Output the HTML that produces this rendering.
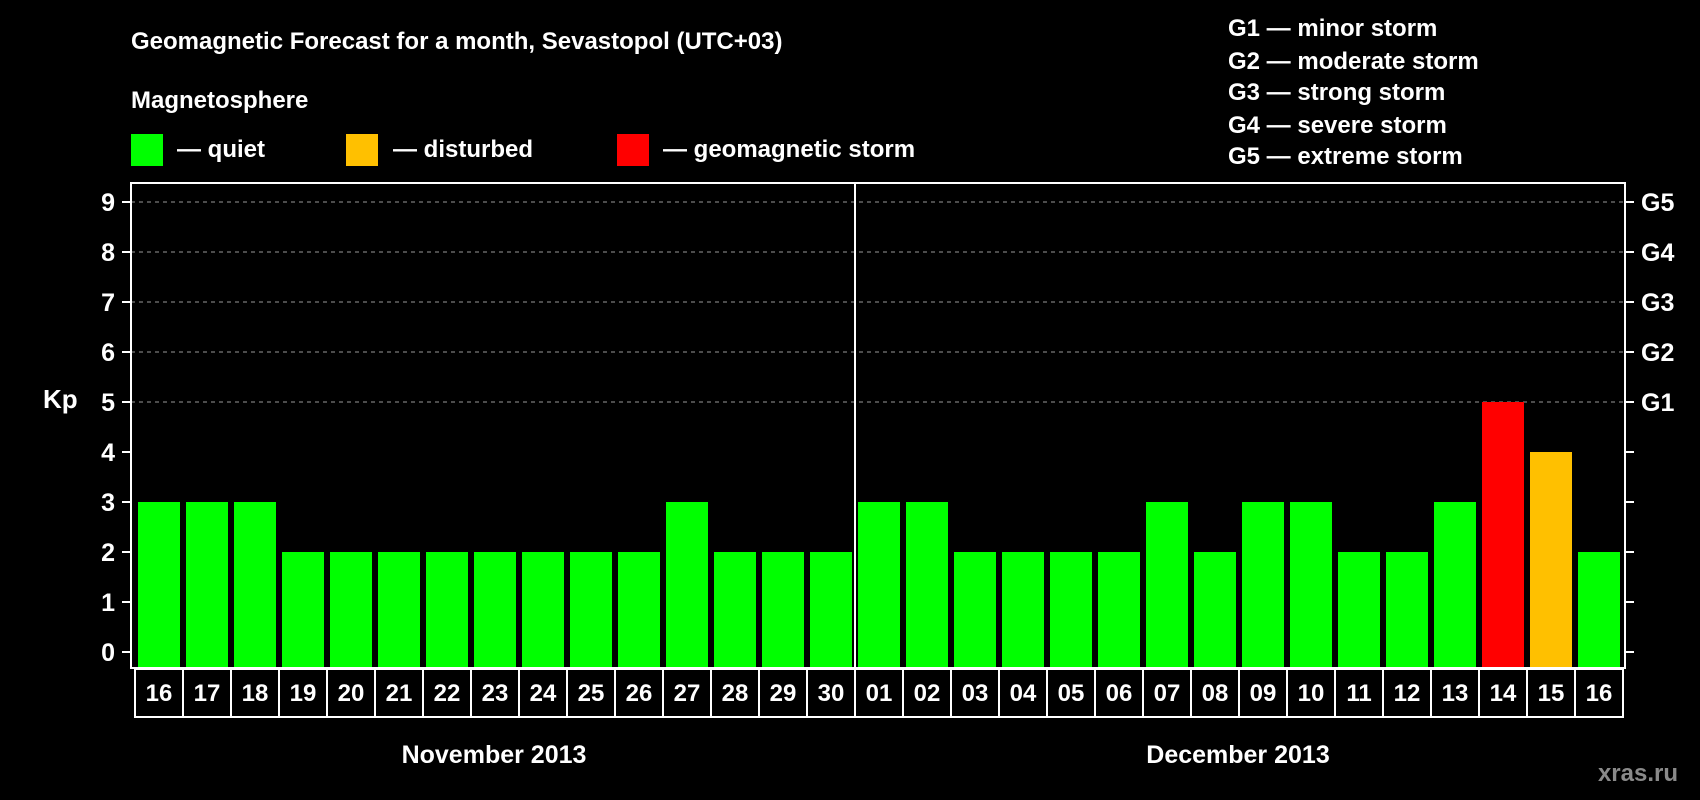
<!DOCTYPE html>
<html><head><meta charset="utf-8"><style>
html,body{margin:0;padding:0;background:#000;}
svg{display:block;font-family:"Liberation Sans",Arial,sans-serif;font-weight:bold;}
</style></head><body>
<svg id="chart" width="1700" height="800" viewBox="0 0 1700 800">
<rect width="1700" height="800" fill="#000"/>
<text x="131" y="49" fill="#fff" font-size="24">Geomagnetic Forecast for a month, Sevastopol (UTC+03)</text>
<text x="131" y="108" fill="#fff" font-size="24">Magnetosphere</text>
<g><rect x="131" y="134" width="32" height="32" fill="#00ff00"/><text x="177" y="157" fill="#fff" font-size="24">— quiet</text></g>
<g><rect x="346" y="134" width="32" height="32" fill="#ffc000"/><text x="393" y="157" fill="#fff" font-size="24">— disturbed</text></g>
<g><rect x="617" y="134" width="32" height="32" fill="#ff0000"/><text x="663" y="157" fill="#fff" font-size="24">— geomagnetic storm</text></g>
<g fill="#fff" font-size="24">
<text x="1228" y="36">G1 — minor storm</text>
<text x="1228" y="69">G2 — moderate storm</text>
<text x="1228" y="100">G3 — strong storm</text>
<text x="1228" y="133">G4 — severe storm</text>
<text x="1228" y="164">G5 — extreme storm</text>
</g>
<text x="43" y="408" fill="#fff" font-size="26">Kp</text>
<g id="grid"></g><g id="bars"></g><g id="axes"></g><g id="labels"></g>
<text x="494" y="763" fill="#fff" font-size="25" text-anchor="middle">November 2013</text>
<text x="1238" y="763" fill="#fff" font-size="25" text-anchor="middle">December 2013</text>
<text x="1678" y="781" fill="#8a8a8a" font-size="24" text-anchor="end">xras.ru</text>
</svg>
<script>
const days = ["16","17","18","19","20","21","22","23","24","25","26","27","28","29","30","01","02","03","04","05","06","07","08","09","10","11","12","13","14","15","16"];
const kpValues = [3,3,3,2,2,2,2,2,2,2,2,3,2,2,2,3,3,2,2,2,2,3,2,3,3,2,2,3,5,4,2];
const yTicks = [0,1,2,3,4,5,6,7,8,9];
const gLabels = ["","","","","","G1","G2","G3","G4","G5"];
const monthBreakIndex = 15;

const NS="http://www.w3.org/2000/svg";
const X0=135, CW=48, L=131, R=1625, T=183, B=668;
const y = v => 652 - v*50;
const x = i => X0 + i*CW;
function mk(tag, attrs, parent){const e=document.createElementNS(NS,tag);for(const k in attrs)e.setAttribute(k,attrs[k]);parent.appendChild(e);return e;}
const grid=document.getElementById('grid'), bars=document.getElementById('bars'), axes=document.getElementById('axes'), labels=document.getElementById('labels');
yTicks.forEach((v,i)=>{
  if(v>=5){const g=mk('line',{x1:L,x2:R,y1:y(v),y2:y(v),stroke:'#999','stroke-width':1,'stroke-dasharray':'4,4'},grid);
  
  }
  const t1=mk('line',{x1:L-9,x2:L,y1:y(v),y2:y(v),stroke:'#fff','stroke-width':2},axes);
  
  
  const t2=mk('line',{x1:R,x2:R+9,y1:y(v),y2:y(v),stroke:'#fff','stroke-width':2},axes);
  
  
  const tl=mk('text',{x:115,y:y(v)+9,fill:'#fff','font-size':25,'text-anchor':'end'},axes);
  tl.textContent=v;
  
  
  if(gLabels[i]){const gl=mk('text',{x:1641,y:y(v)+9,fill:'#fff','font-size':25},axes);
  gl.textContent=gLabels[i];
  
  }
});
kpValues.forEach((v,i)=>{
  const col = v>=5?'#ff0000':(v>=4?'#ffc000':'#00ff00');
  const b=mk('rect',{x:x(i)+3,y:y(v),width:CW-6,height:B-y(v)-1,fill:col},bars);
  
  
});
const fr=mk('rect',{x:L,y:T,width:R-L,height:B-T,fill:'none',stroke:'#fff','stroke-width':2},axes);


const sep=mk('line',{x1:x(monthBreakIndex),x2:x(monthBreakIndex),y1:T,y2:B,stroke:'#fff','stroke-width':2},axes);


days.forEach((d,i)=>{
  const c=mk('rect',{x:x(i),y:669,width:CW,height:48,fill:'none',stroke:'#fff','stroke-width':2},labels);
  
  
  const t=mk('text',{x:x(i)+CW/2,y:701,fill:'#fff','font-size':24,'text-anchor':'middle'},labels);
  t.textContent=d;
  
  
});
</script>
</body></html>
